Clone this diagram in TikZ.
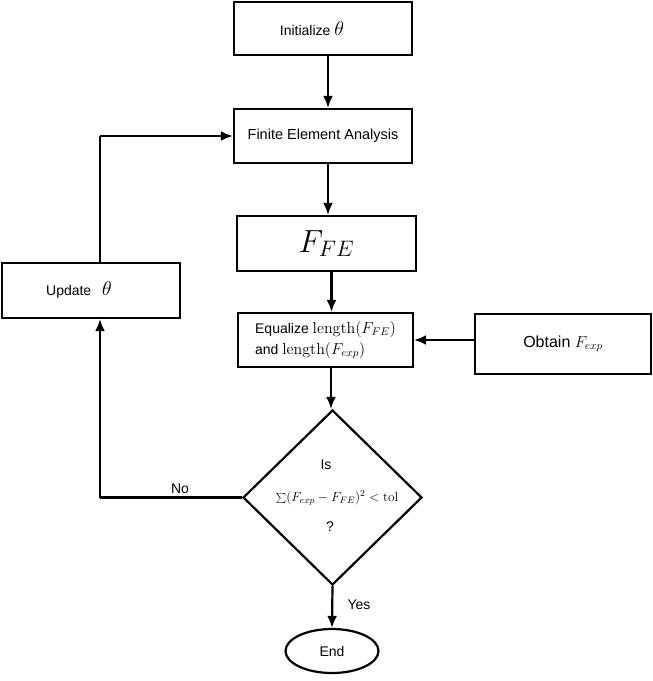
\RequirePackage{fix-cm}
\documentclass[tikz,border=0pt]{standalone}
\usepackage[no-math]{fontspec}
\setmainfont{Liberation Sans}
\usetikzlibrary{shapes.geometric,arrows.meta,calc}
\newcommand{\bigth}{{\fontsize{20}{20}\selectfont$\theta$}}
\begin{document}
\begin{tikzpicture}[x=1pt,y=-1pt,
  box/.style={draw,line width=2.2pt,rectangle,inner sep=0pt,font=\fontsize{14}{17}\selectfont},
  arr/.style={line width=2.2pt,-{Latex[length=12pt,width=10pt]}},
  ln/.style={line width=2.2pt},
  lbl/.style={font=\fontsize{14}{17}\selectfont,inner sep=0pt}]
\useasboundingbox (0,0) rectangle (653,681);
\node[box,minimum width=178pt,minimum height=53pt] (init) at (323,28.5) {Initialize \bigth\kern22pt\relax};
\node[box,minimum width=178pt,minimum height=54pt,font=\fontsize{14.5}{17}\selectfont] (fea) at (323,136) {Finite Element Analysis};
\node[box,minimum width=179pt,minimum height=55pt,font=\fontsize{32}{36}\selectfont] (ffe) at (326.5,243.5) {$F_{FE}$};
\node[box,minimum width=175pt,minimum height=54pt,align=left,font=\fontsize{14}{21}\selectfont] (eq) at (325.5,340) {Equalize {\fontsize{16}{21}\selectfont$\mathrm{length}(F_{FE})$}\\and {\fontsize{16}{21}\selectfont$\mathrm{length}(F_{exp})$}};
\node[box,minimum width=176pt,minimum height=60pt,font=\fontsize{16}{19}\selectfont] (obt) at (563,344) {Obtain $F_{exp}$};
\node[box,minimum width=178pt,minimum height=55pt] (upd) at (91,290.5) {Update\hspace{7pt} \bigth\kern24pt\relax};
\node[draw,line width=2.2pt,diamond,minimum width=179pt,minimum height=175pt,inner sep=0pt] (dia) at (332.5,497.5) {};
\node[lbl] (is) at (326,465) {Is};
\node[lbl,font=\fontsize{13.3}{16}\selectfont] (cond) at (337,498) {$\sum(F_{exp}-F_{FE})^2<\mathrm{tol}$};
\node[lbl] (q) at (330,527) {?};
\node[draw,line width=2.2pt,ellipse,minimum width=93pt,minimum height=44pt,inner sep=0pt,font=\fontsize{14}{17}\selectfont] (end) at (332,651) {End};
\coordinate (c1) at (100,497.5);
\coordinate (c2) at (100,136);
\node[lbl] (no) at (180,489) {No};
\node[lbl] (yes) at (359,605) {Yes};
\draw[arr] ([xshift=5pt]init.south) -- ([xshift=5pt]init.south |- fea.north);
\draw[arr] ([xshift=5pt]fea.south) -- ([xshift=5pt]fea.south |- ffe.north);
\draw[arr] ([xshift=5pt]ffe.south) -- ([xshift=5pt]ffe.south |- eq.north);
\draw[arr] ([xshift=5.5pt]eq.south) -- ([xshift=5.5pt]eq.south |- dia.north);
\draw[arr] (dia.south) -- (end.north);
\draw[arr] (obt.west |- eq.east) -- (eq.east);
\draw[ln] (dia.west) -- (c1);
\draw[arr] (c1) -- (c1 |- upd.south);
\draw[ln] (c1 |- upd.north) -- (c2);
\draw[arr] (c2) -- (fea.west);
\end{tikzpicture}
\end{document}
